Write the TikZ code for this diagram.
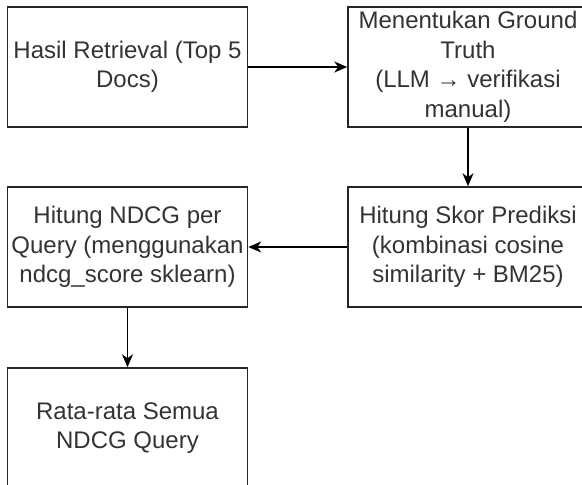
\documentclass[tikz,border=0pt]{standalone}
\usepackage{fontspec}
\setmainfont{Liberation Sans}
\usetikzlibrary{arrows.meta}
\begin{document}
\begin{tikzpicture}[x=1pt,y=1pt,
  stepbox/.style={draw=black!85, line width=1.5pt, minimum width=240pt, minimum height=120pt,
    inner sep=0pt, align=center, text=black!80,
    font=\fontsize{24}{29.5}\selectfont},
  conn/.style={draw=black, line width=1.5pt, -{Stealth[length=13pt,width=11pt,inset=4pt]}}]
\useasboundingbox (0,0) rectangle (582,-485);
\clip (0,0) rectangle (582,-485);
\node[stepbox] (b1) at (127.5,-67) {Hasil Retrieval (Top 5\\Docs)};
\node[stepbox] (b2) at (468,-67) {Menentukan Ground\\Truth\\(LLM → verifikasi\\manual)};
\node[stepbox] (b3) at (468,-247) {Hitung Skor Prediksi\\(kombinasi cosine\\similarity + BM25)};
\node[stepbox] (b4) at (127.5,-247) {Hitung NDCG per\\Query (menggunakan\\ndcg\_score sklearn)};
\node[stepbox] (b5) at (127.5,-428) {Rata-rata Semua\\NDCG Query};
\draw[conn] (b1) -- (b2);
\draw[conn] (b2) -- (b3);
\draw[conn] (b3) -- (b4);
\draw[conn] (b4) -- (b5);
\end{tikzpicture}
\end{document}
